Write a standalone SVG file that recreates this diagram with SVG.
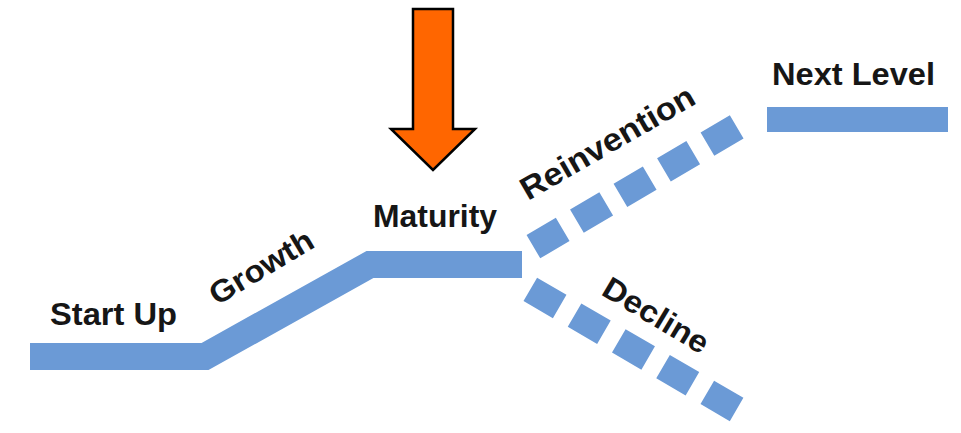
<svg xmlns="http://www.w3.org/2000/svg" width="961" height="433" viewBox="0 0 961 433">
  <style>
    .band { fill: none; stroke: #6b9ad6; stroke-width: 27; stroke-linejoin: miter; stroke-linecap: butt; }
    .dashed { fill: none; stroke: #6b9ad6; stroke-width: 27; stroke-linecap: butt; }
    .label { font-family: "Liberation Sans", Arial, Helvetica, sans-serif; font-weight: bold; font-size: 31px; fill: #161616; }
    .pointer { fill: #ff6600; stroke: #000; stroke-width: 2.5; stroke-linejoin: miter; }
  </style>
  <rect width="961" height="433" fill="#ffffff"/>

  <g id="connectors">
    <!-- lifecycle curve: start-up, growth, maturity -->
    <polyline id="curve-main" class="band" points="30,356.5 205,356.5 370,264.5 522,264.5"/>
    <!-- reinvention branch -->
    <line id="curve-reinvention" class="dashed" x1="533.4" y1="246.7" x2="736.7" y2="126.9" stroke-dasharray="34 16.5"/>
    <!-- decline branch -->
    <line id="curve-decline" class="dashed" x1="530.3" y1="289.4" x2="736.6" y2="409.5" stroke-dasharray="34 17.2"/>
    <!-- next level plateau -->
    <rect id="curve-next" x="767" y="107" width="181" height="25" fill="#6b9ad6"/>
  </g>

  <g id="pointer">
    <polygon class="pointer" points="413,9 453,9 453,129 475,129 433,170 391,129 413,129"/>
  </g>

  <g id="stage-startup">
    <text class="label" x="50" y="325" textLength="127" lengthAdjust="spacingAndGlyphs">Start Up</text>
  </g>
  <g id="stage-growth">
    <text class="label" transform="translate(217,306) rotate(-31)" textLength="116" lengthAdjust="spacingAndGlyphs">Growth</text>
  </g>
  <g id="stage-maturity">
    <text class="label" x="373" y="227" textLength="124" lengthAdjust="spacingAndGlyphs">Maturity</text>
  </g>
  <g id="stage-reinvention">
    <text class="label" transform="translate(528,201) rotate(-30)" textLength="196" lengthAdjust="spacingAndGlyphs" style="font-size:32px">Reinvention</text>
  </g>
  <g id="stage-decline">
    <text class="label" transform="translate(600,294) rotate(31)" textLength="118" lengthAdjust="spacingAndGlyphs">Decline</text>
  </g>
  <g id="stage-next">
    <text class="label" x="772" y="85" textLength="163" lengthAdjust="spacingAndGlyphs" style="font-size:32px">Next Level</text>
  </g>
</svg>
